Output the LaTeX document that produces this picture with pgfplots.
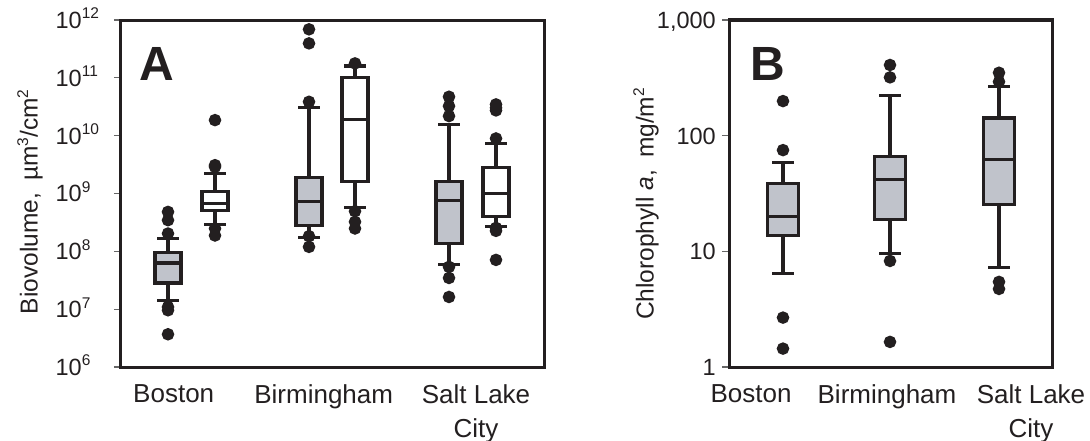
\documentclass[border=0pt]{standalone}
\usepackage{pgfplots}
\pgfplotsset{compat=1.18}
\usepgfplotslibrary{statistics}
\usepackage{fontspec}
\setmainfont{Liberation Sans}
\definecolor{ink}{RGB}{35,31,32}
\definecolor{boxgray}{RGB}{192,195,203}
\newcommand\sups[1]{\raisebox{9.5pt}{\fontsize{15.5}{15.5}\selectfont #1}}

% y values are log10 of the plotted quantity (both panels use a log scale)
\pgfplotsset{
  panel/.style={
    scale only axis, height=347pt,
    enlargelimits=false, clip=false,
    axis line style={ink, line width=3pt},
    tick align=outside, ytick pos=left, major tick length=7pt,
    ytick style={gray!80!black, line width=1.2pt},
    xtick style={draw=none},
    /pgf/number format/assume math mode=true,
    yticklabel style={font=\fontsize{23.5}{28}\selectfont, text=ink, anchor=base east, inner sep=0pt, yshift=-8.4pt},
    xticklabel style={font=\fontsize{26}{34.5}\selectfont, text=ink, align=center, anchor=north, inner sep=0pt, yshift=-10pt},
    every axis y label/.style={rotate=90, anchor=center, text=ink, font=\fontsize{24.5}{28}\selectfont},
    boxplot/draw direction=y,
    boxplot/every box/.style={draw=ink, line width=3.2pt},
    boxplot/every median/.style={draw=ink, line width=3.2pt},
    boxplot/every whisker/.style={draw=ink, line width=3.2pt},
  },
  bx/.style={fill=#1, draw=ink, line width=3.2pt, solid, mark=*, mark size=4.6pt,
    mark options={fill=ink, draw=none}},
}

\begin{document}
\begin{tikzpicture}
\useasboundingbox (0,0) rectangle (1090pt,-441pt);

% panel A: biovolume
\begin{axis}[panel, at={(121pt,-367pt)}, anchor=south west, width=423pt,
  xmin=0, xmax=4.23, ymin=6, ymax=12,
  xtick={0.527,2.027,3.55}, xticklabels={Boston,Birmingham,{Salt Lake\\City}},
  ytick={6,7,8,9,10,11,12},
  yticklabels={10\rlap{\sups{6}},10\rlap{\sups{7}},10\rlap{\sups{8}},10\rlap{\sups{9}},
    10\rlap{\sups{10}},10\rlap{\sups{11}},10\rlap{\sups{12}}},
  yticklabel style={xshift=-32pt},
  ylabel={Biovolume,\hspace{0.5em}µm\sups{3}/cm\sups{2}},
  every axis y label/.append style={at={(axis description cs:-0.215,0.476)}},
]
\addplot[bx=boxgray, boxplot prepared={draw position=0.47, lower whisker=7.154, lower quartile=7.453,
  median=7.800, upper quartile=7.980, upper whisker=8.222, box extend=0.26, whisker extend=0.22}]
  coordinates {(0,8.682)(0,8.539)(0,8.308)(0,7.038)(0,6.981)(0,6.566)};
\addplot[bx=white, boxplot prepared={draw position=0.94, lower whisker=8.469, lower quartile=8.712,
  median=8.833, upper quartile=9.040, upper whisker=9.352, box extend=0.26, whisker extend=0.22}]
  coordinates {(0,10.269)(0,9.490)(0,9.461)(0,8.395)(0,8.274)};
\addplot[bx=boxgray, boxplot prepared={draw position=1.88, lower whisker=8.233, lower quartile=8.452,
  median=8.867, upper quartile=9.277, upper whisker=10.482, box extend=0.26, whisker extend=0.22}]
  coordinates {(0,11.839)(0,11.596)(0,10.586)(0,8.262)(0,8.077)};
\addplot[bx=white, boxplot prepared={draw position=2.34, lower whisker=8.758, lower quartile=9.214,
  median=10.281, upper quartile=11.002, upper whisker=11.204, box extend=0.26, whisker extend=0.22}]
  coordinates {(0,11.250)(0,8.694)(0,8.510)(0,8.395)};
\addplot[bx=boxgray, boxplot prepared={draw position=3.28, lower whisker=7.772, lower quartile=8.135,
  median=8.873, upper quartile=9.214, upper whisker=10.200, box extend=0.26, whisker extend=0.22}]
  coordinates {(0,10.673)(0,10.512)(0,10.339)(0,7.731)(0,7.540)(0,7.211)};
\addplot[bx=white, boxplot prepared={draw position=3.75, lower whisker=8.435, lower quartile=8.596,
  median=9.000, upper quartile=9.451, upper whisker=9.866, box extend=0.26, whisker extend=0.22}]
  coordinates {(0,10.541)(0,10.482)(0,10.437)(0,9.952)(0,8.405)(0,8.354)(0,7.852)};
\node[anchor=north west, inner sep=0pt, text=ink, font=\fontsize{48}{48}\selectfont\bfseries]
  at (rel axis cs:0.0426,0.922) {A};
\end{axis}

% panel B: chlorophyll a
\begin{axis}[panel, at={(729pt,-367pt)}, anchor=south west, width=323pt,
  xmin=0, xmax=3.23, ymin=0, ymax=3,
  xtick={0.22,1.58,3.02}, xticklabels={Boston,Birmingham,{Salt Lake\\City}},
  ytick={0,1,2,3}, yticklabels={1,10,100,{1,000}},
  yticklabel style={xshift=-6pt},
  ylabel={Chlorophyll \textit{a},\hspace{0.5em}mg/m\sups{2}},
  every axis y label/.append style={at={(axis description cs:-0.257,0.47)}},
]
\addplot[bx=boxgray, boxplot prepared={draw position=0.54, lower whisker=0.808, lower quartile=1.137,
  median=1.304, upper quartile=1.584, upper whisker=1.766, box extend=0.315, whisker extend=0.22}]
  coordinates {(0,2.299)(0,1.875)(0,0.427)(0,0.159)};
\addplot[bx=boxgray, boxplot prepared={draw position=1.61, lower whisker=0.981, lower quartile=1.272,
  median=1.621, upper quartile=1.823, upper whisker=2.348, box extend=0.315, whisker extend=0.22}]
  coordinates {(0,2.611)(0,2.504)(0,0.917)(0,0.217)};
\addplot[bx=boxgray, boxplot prepared={draw position=2.70, lower whisker=0.857, lower quartile=1.405,
  median=1.794, upper quartile=2.152, upper whisker=2.423, box extend=0.315, whisker extend=0.22}]
  coordinates {(0,2.544)(0,2.466)(0,0.736)(0,0.675)};
\node[anchor=north west, inner sep=0pt, text=ink, font=\fontsize{48}{48}\selectfont\bfseries]
  at (rel axis cs:0.066,0.922) {B};
\end{axis}
\end{tikzpicture}
\end{document}
